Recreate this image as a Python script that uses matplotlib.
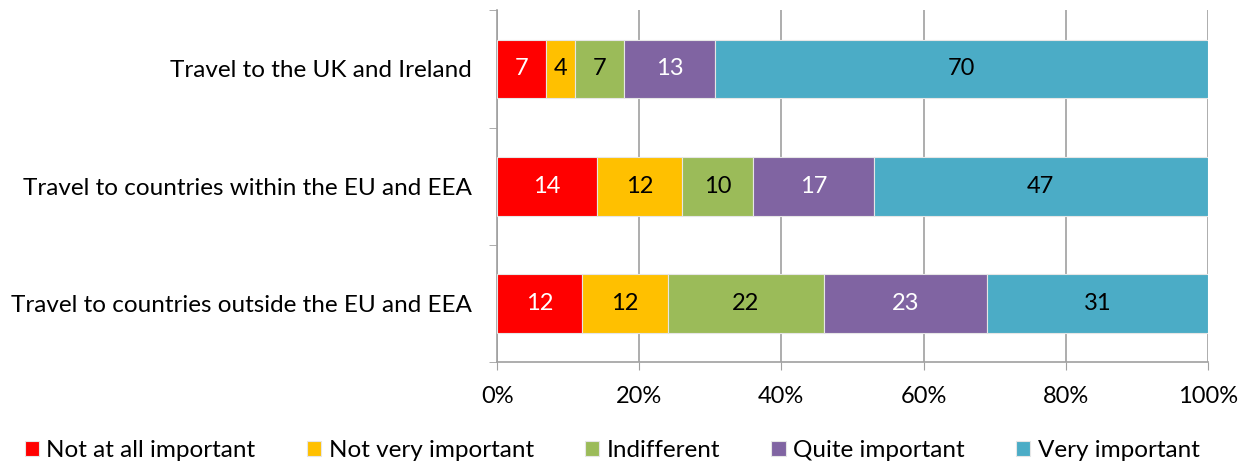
import matplotlib.pyplot as plt
import numpy as np

categories = ["Travel to the UK and Ireland",
              "Travel to countries within the EU and EEA",
              "Travel to countries outside the EU and EEA"]
series = ["Not at all important", "Not very important", "Indifferent",
          "Quite important", "Very important"]
not_at_all = [7, 14, 12]
not_very = [4, 12, 12]
indifferent = [7, 10, 22]
quite = [13, 17, 23]
very = [70, 47, 31]

colors = ["#ff0000", "#ffc000", "#9bbb59", "#8064a2", "#4bacc6"]
text_colors = ["white", "black", "black", "white", "black"]

plt.rcParams['font.family'] = ['Lato', 'DejaVu Sans']

values = np.array([not_at_all, not_very, indifferent, quite, very], dtype=float)
totals = values.sum(axis=0)
shares = values / totals * 100

fig = plt.figure(figsize=(12.49, 4.62), dpi=100)
ax = fig.add_axes([0.398, 0.216, 0.569, 0.762])

y = np.arange(len(categories))
left = np.zeros(len(categories))
for i in range(len(series)):
    bars = ax.barh(y, shares[i], left=left, height=0.5, color=colors[i],
                   edgecolor='#e6e6e6', linewidth=0.8, label=series[i], zorder=3)
    for j in range(len(categories)):
        ax.text(left[j] + shares[i][j] / 2, y[j], str(int(values[i][j])),
                ha='center', va='center', color=text_colors[i], fontsize=17, zorder=4)
    left = left + shares[i]

ax.set_xlim(0, 100)
ax.set_ylim(len(categories) - 0.5, -0.5)
ax.set_xticks(np.arange(0, 101, 20))
ax.set_xticklabels([str(v) + '%' for v in range(0, 101, 20)], fontsize=17)
ax.set_yticks(y)
ax.set_yticklabels(categories, fontsize=17.5)
ax.set_yticks(np.arange(-0.5, len(categories), 1), minor=True)
ax.tick_params(axis='y', which='major', length=0, pad=18)
ax.tick_params(axis='y', which='minor', length=6, color='#a0a0a0')
ax.tick_params(axis='x', length=6, color='#a0a0a0', pad=11)
ax.grid(axis='x', color='#a0a0a0', linewidth=1.2, zorder=0)
for s in ['top', 'right']:
    ax.spines[s].set_visible(False)
for s in ['left', 'bottom']:
    ax.spines[s].set_color('#a0a0a0')
    ax.spines[s].set_linewidth(1.2)

fig.legend(loc='lower center', bbox_to_anchor=(0.49, -0.045), ncol=5, frameon=False,
           fontsize=17.5, handlelength=0.6, handleheight=0.6, handletextpad=0.3,
           columnspacing=2.1)

plt.savefig('out.png')
